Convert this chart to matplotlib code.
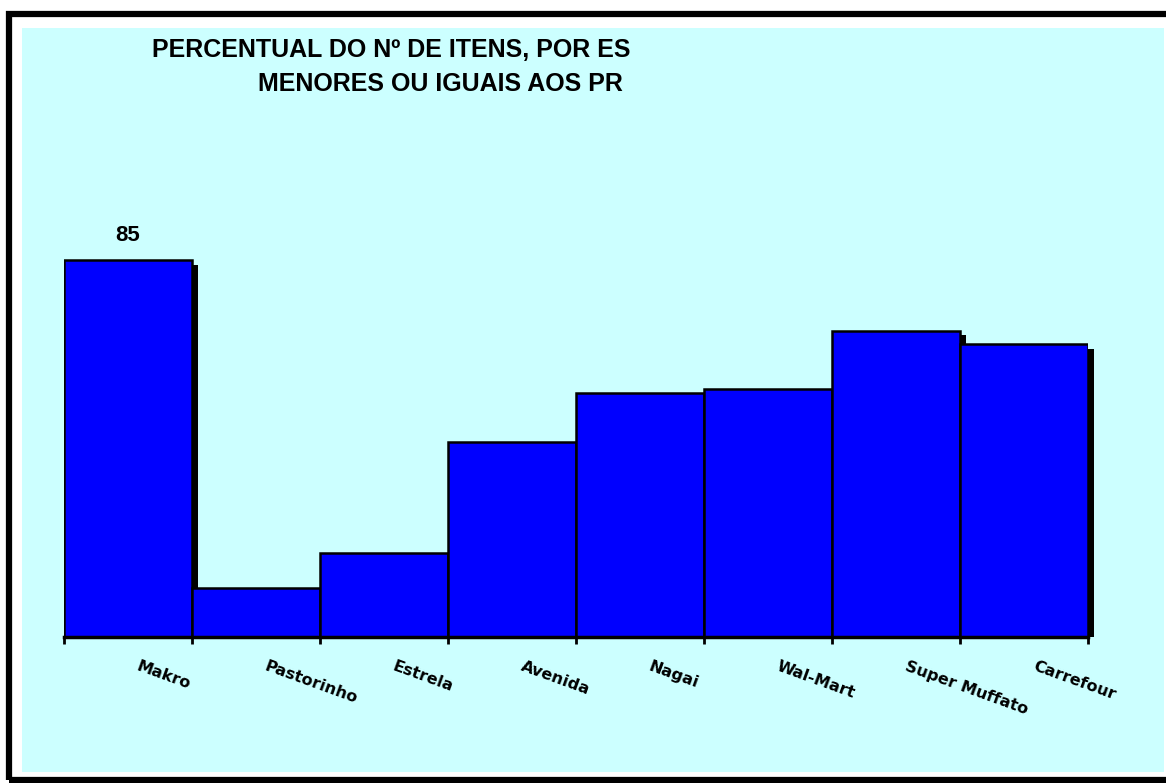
import matplotlib
matplotlib.use("Agg")
from matplotlib import pyplot as plt
from matplotlib.patches import Rectangle
from matplotlib.transforms import Bbox, TransformedBbox, ScaledTranslation
import numpy as np

lojas = ["Makro", "Pastorinho", "Estrela", "Avenida", "Nagai",
         "Wal-Mart", "Super Muffato", "Carrefour"]
percentual = [85, 11, 19, 44, 55, 56, 69, 66]
rotulo_valor = {0: "85"}

titulo_1 = "PERCENTUAL DO Nº DE ITENS, POR ES"
titulo_2 = "MENORES OU IGUAIS AOS PR"

W, H = 1166, 783
fig = plt.figure(figsize=(W / 100, H / 100), dpi=100, facecolor="white")

def px(x, y, w, h):
    # pixel box (top-left origin) -> figure fraction
    return (x / W, 1 - (y + h) / H, w / W, h / H)

# moldura preta e area ciano
fx, fy, fw, fh = px(9, 14, 1170, 766)
fig.patches.append(Rectangle((fx, fy), fw, fh, transform=fig.transFigure,
                             facecolor="none", edgecolor="black", lw=4.5, zorder=-2))
cx, cy, cw, ch = px(22, 28, 1142, 744)
fig.patches.append(Rectangle((cx, cy), cw, ch, transform=fig.transFigure,
                             facecolor="#CCFFFF", edgecolor="none", zorder=-2))

ax = fig.add_axes(px(64, 193.5, 1024, 443.5))
ax.set_facecolor("none")
ax.set_xlim(-0.5, 7.5)
ax.set_ylim(0, 100)

x = np.arange(len(lojas))
# sombra (cortada na linha de base)
desloc = ScaledTranslation(6 / 100, -4.5 / 100, fig.dpi_scale_trans)
sombra = ax.bar(x, percentual, width=1.0, color="black", zorder=1)
clip_sombra = TransformedBbox(Bbox([[-0.5, 0], [7.6, 100]]), ax.transData)
for r in sombra:
    r.set_transform(ax.transData + desloc)
    r.set_clip_box(clip_sombra)
ax.bar(x, percentual, width=1.0, color="#0000FF", edgecolor="black", lw=1.8, zorder=2)

for i, t in rotulo_valor.items():
    ax.annotate(t, (x[i], percentual[i]), xytext=(0, 10), textcoords="offset points",
                ha="center", va="bottom", fontsize=16, fontweight="bold",
                family="Liberation Sans")

for s in ["left", "right", "top"]:
    ax.spines[s].set_visible(False)
ax.spines["bottom"].set_linewidth(2.5)
ax.spines["bottom"].set_zorder(3)
ax.set_yticks([])
ax.set_xticks(np.arange(-0.5, 8, 1), minor=True)
ax.tick_params(axis="x", which="minor", length=5, width=2, direction="out")
ax.set_xticks(x, lojas, rotation=-20, ha="left", rotation_mode="anchor",
              fontsize=11.5, fontweight="bold", family="DejaVu Sans")
ax.tick_params(axis="x", which="major", length=0, pad=16)
for lab in ax.get_xticklabels():
    lab.set_transform(lab.get_transform() + ScaledTranslation(12 / 100, 0, fig.dpi_scale_trans))

clip = TransformedBbox(Bbox([[0, 0], [632 / W, 1]]), fig.transFigure)
t1 = fig.text(152 / W, 1 - 57 / H, titulo_1, fontsize=18, fontweight="bold",
              family="Liberation Sans", ha="left", va="baseline")
t2 = fig.text(258 / W, 1 - 91 / H, titulo_2, fontsize=18, fontweight="bold",
              family="Liberation Sans", ha="left", va="baseline")
for t in (t1, t2):
    t.set_clip_box(clip)
    t.set_clip_on(True)

fig.savefig("out.png", dpi=100, facecolor="white")
